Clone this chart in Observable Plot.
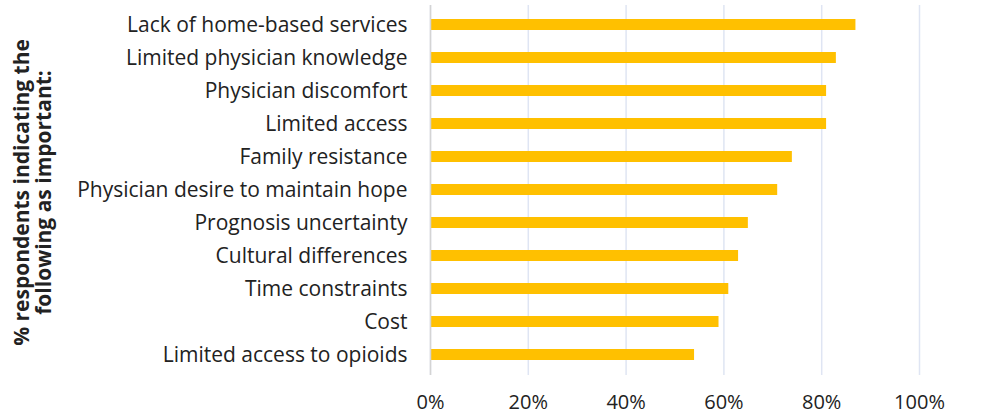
<!DOCTYPE html>
<html>
<head>
<meta charset="utf-8">
<script src="https://cdn.jsdelivr.net/npm/d3@7"></script>
<script src="https://cdn.jsdelivr.net/npm/@observablehq/plot@0.6"></script>
<style>
  html, body { margin: 0; padding: 0; background: #fff; }
</style>
</head>
<body>
<div id="chart"></div>
<script>
const categories = [
  "Lack of home-based services",
  "Limited physician knowledge",
  "Physician discomfort",
  "Limited access",
  "Family resistance",
  "Physician desire to maintain hope",
  "Prognosis uncertainty",
  "Cultural differences",
  "Time constraints",
  "Cost",
  "Limited access to opioids"
];
const values = [87, 83, 81, 81, 74, 71, 65, 63, 61, 59, 54];
const xTicks = [0, 20, 40, 60, 80, 100];
const yTitle = "% respondents indicating the\nfollowing as important:";

const data = categories.map((c, i) => ({category: c, value: values[i]}));

const chart = Plot.plot({
  width: 994,
  height: 416,
  marginLeft: 430,
  marginRight: 75,
  marginTop: 5,
  marginBottom: 41,
  style: {fontFamily: "'Open Sans', sans-serif", fontSize: "18px", color: "#222", background: "#fff"},
  x: {domain: [0, 100], ticks: xTicks, tickFormat: d => d + "%", label: null},
  y: {domain: categories, paddingInner: 0.66, paddingOuter: 0.33, label: null},
  marks: [
    Plot.gridX(xTicks, {stroke: "#dfe5f3", strokeOpacity: 1, strokeWidth: 1.5}),
    Plot.barX(data, {x: "value", y: "category", fill: "#FFC000"}),
    Plot.ruleX([0], {stroke: "#d4d4d4", strokeWidth: 1.5}),
    Plot.axisX({ticks: xTicks, tickFormat: d => d + "%", tickSize: 0, tickPadding: 19, fontSize: 20, label: null}),
    Plot.axisY({tickSize: 0, tickPadding: 23, fontSize: 21, label: null}),
    Plot.text([yTitle], {frameAnchor: "left", textAnchor: "middle", lineAnchor: "middle", rotate: -90, dx: -398, dy: 2, fontWeight: "bold", fontSize: 21, lineHeight: 1.05, fill: "#222"})
  ]
});
document.getElementById("chart").appendChild(chart);
</script>
</body>
</html>
